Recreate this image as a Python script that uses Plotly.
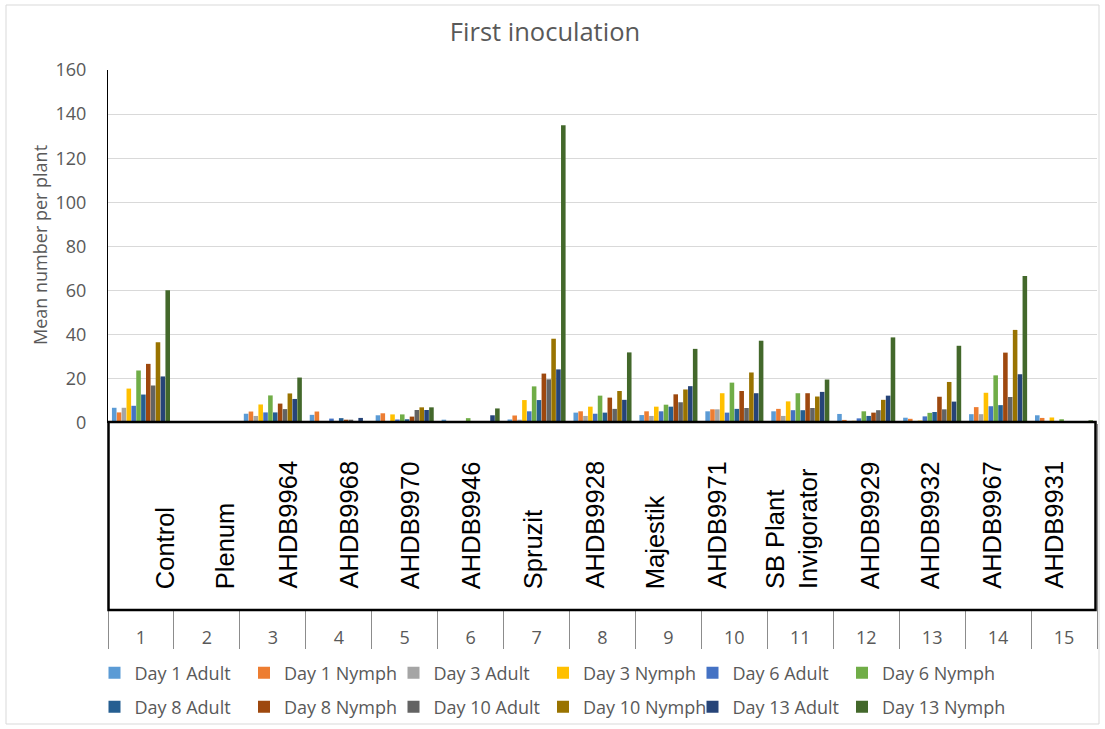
import plotly.graph_objects as go

# ---------------- data ----------------
CATEGORIES = [str(i) for i in range(1, 16)]
TREATMENTS = ["Control", "Plenum", "AHDB9964", "AHDB9968", "AHDB9970", "AHDB9946",
              "Spruzit", "AHDB9928", "Majestik", "AHDB9971", "SB Plant<br>Invigorator",
              "AHDB9929", "AHDB9932", "AHDB9967", "AHDB9931"]
SERIES_NAMES = ["Day 1 Adult", "Day 1 Nymph", "Day 3 Adult", "Day 3 Nymph",
                "Day 6 Adult", "Day 6 Nymph", "Day 8 Adult", "Day 8 Nymph",
                "Day 10 Adult", "Day 10 Nymph", "Day 13 Adult", "Day 13 Nymph"]

day1_adult = [6.9, 0.8, 4.2, 3.7, 3.5, 1.5, 1.6, 4.7, 3.6, 5.3, 5.3, 4.1, 2.4, 4.0, 3.5]
day1_nymph = [4.8, 0, 5.2, 5.2, 4.4, 0, 3.4, 5.3, 5.3, 6.2, 6.4, 1.4, 1.9, 7.2, 2.3]
day3_adult = [6.9, 0, 3.2, 0, 0.3, 0, 1.5, 3.2, 3.2, 6.2, 3.2, 0.4, 0.3, 4.0, 0]
day3_nymph = [15.6, 0, 8.4, 0, 3.9, 0, 10.4, 7.4, 7.4, 13.5, 9.8, 1.0, 1.1, 13.7, 2.5]
day6_adult = [7.8, 0, 4.8, 2.0, 1.6, 0, 5.3, 4.2, 5.3, 4.7, 5.8, 2.1, 3.0, 7.6, 0]
day6_nymph = [23.8, 0, 12.5, 0, 3.9, 2.2, 16.6, 12.4, 8.3, 18.3, 13.5, 5.3, 4.6, 21.6, 1.7]
day8_adult = [12.9, 0, 4.8, 2.2, 1.7, 0, 10.4, 4.7, 7.4, 6.4, 5.8, 3.2, 5.0, 8.1, 0]
day8_nymph = [26.8, 0, 8.8, 1.5, 2.9, 0, 22.4, 11.5, 13.0, 14.5, 13.5, 4.7, 11.9, 31.9, 0]
day10_adult = [17.0, 0, 6.3, 1.5, 5.9, 0, 19.8, 6.4, 9.4, 6.8, 6.8, 5.8, 6.2, 11.8, 0]
day10_nymph = [36.6, 0, 13.4, 0, 7.1, 0, 38.2, 14.5, 15.2, 22.9, 12.0, 10.5, 18.6, 42.2, 0]
day13_adult = [21.1, 0, 10.9, 2.3, 5.9, 3.5, 24.3, 10.5, 16.7, 13.5, 14.1, 12.4, 9.7, 22.1, 0]
day13_nymph = [60.2, 0, 20.6, 0, 7.1, 6.6, 135.0, 32.0, 33.6, 37.3, 19.7, 38.8, 35.0, 66.6, 1.2]

SERIES_VALUES = [day1_adult, day1_nymph, day3_adult, day3_nymph, day6_adult, day6_nymph,
                 day8_adult, day8_nymph, day10_adult, day10_nymph, day13_adult, day13_nymph]

# ---------------- styling ----------------
COLORS = ["#5B9BD5", "#ED7D31", "#A5A5A5", "#FFC000", "#4472C4", "#70AD47",
          "#255E91", "#9E480E", "#636363", "#997300", "#264478", "#43682B"]

W, H = 1105, 729
L, R, T, B = 108, 8, 70, 306
PW, PH = W - L - R, H - T - B
TXT = "#595959"
FONT = "Open Sans"


def px_x(px):
    return (px - L) / PW


def px_y(py):
    return (H - B - py) / PH


# horizontal pixel centre of each treatment label inside the text box
LABEL_X_PX = [165.2, 225.2, 287.5, 348.5, 410.2, 471.2, 532.8, 594.5, 655.2, 716.8,
              791.5, 870.2, 930.2, 991.8, 1053.5]

fig = go.Figure()
for i, (name, vals) in enumerate(zip(SERIES_NAMES, SERIES_VALUES)):
    extra = {}
    if i in (5, 11):
        extra["legendwidth"] = 140
    fig.add_trace(go.Bar(
        x=CATEGORIES, y=vals, name=name,
        marker=dict(color=COLORS[i], line=dict(width=0)),
        legend="legend" if i < 6 else "legend2",
        **extra,
    ))

shapes = [
    # outer chart border
    dict(type="rect", xref="paper", yref="paper",
         x0=px_x(6), x1=px_x(1099), y0=px_y(724), y1=px_y(5),
         line=dict(color="#D9D9D9", width=1), fillcolor="rgba(0,0,0,0)", layer="below"),
    # text box with treatment names
    dict(type="rect", xref="paper", yref="paper",
         x0=px_x(108.5), x1=px_x(1095.5), y0=px_y(610), y1=px_y(422),
         line=dict(color="black", width=2.5), fillcolor="white", layer="above"),
]

annotations = []
for lab, xp in zip(TREATMENTS, LABEL_X_PX):
    annotations.append(dict(
        text=lab, xref="paper", yref="paper", x=px_x(xp), y=px_y(591),
        xanchor="center", yanchor="bottom", textangle=-90, showarrow=False,
        align="left", font=dict(family="Liberation Sans", size=25.5, color="black"),
    ))
annotations.append(dict(
    text="Mean number per plant", xref="paper", yref="paper",
    x=px_x(40), y=px_y(245), xanchor="center", yanchor="middle",
    textangle=-90, showarrow=False, font=dict(family=FONT, size=18, color=TXT),
))

legend_common = dict(
    orientation="h", xanchor="left", yanchor="middle",
    xref="container", yref="container",
    entrywidth=104.5, entrywidthmode="pixels",
    font=dict(family=FONT, size=18, color=TXT),
    bgcolor="rgba(0,0,0,0)", traceorder="normal",
)

fig.update_layout(
    template="none",
    width=W, height=H,
    margin=dict(l=L, r=R, t=T, b=B, pad=0),
    paper_bgcolor="white", plot_bgcolor="white",
    barmode="group", bargap=0.115, bargroupgap=0.06,
    title=dict(text="First inoculation", x=545 / W, xref="container", xanchor="center",
               y=1 - 32 / H, yref="container", yanchor="middle",
               font=dict(family=FONT, size=25.5, color=TXT)),
    xaxis=dict(
        type="category", automargin=False,
        showgrid=False, showline=False, zeroline=False,
        ticks="outside", tickson="boundaries", ticklen=225,
        tickcolor="#8C8C8C", tickwidth=1,
        ticklabelstandoff=202,
        tickfont=dict(family=FONT, size=18, color=TXT),
    ),
    yaxis=dict(
        range=[0, 160], dtick=20, automargin=False,
        showgrid=True, gridcolor="#D9D9D9", gridwidth=1,
        showline=True, linecolor="black", linewidth=1,
        zeroline=False, ticks="", ticklabelstandoff=17,
        tickfont=dict(family=FONT, size=18, color=TXT),
    ),
    legend=dict(x=94.5 / W, y=1 - 673 / H, **legend_common),
    legend2=dict(x=94.5 / W, y=1 - 707 / H, **legend_common),
    shapes=shapes,
    annotations=annotations,
    showlegend=True,
)

fig.write_html("out.html", config={"displayModeBar": False},
               post_script="document.body.style.margin='0';")
